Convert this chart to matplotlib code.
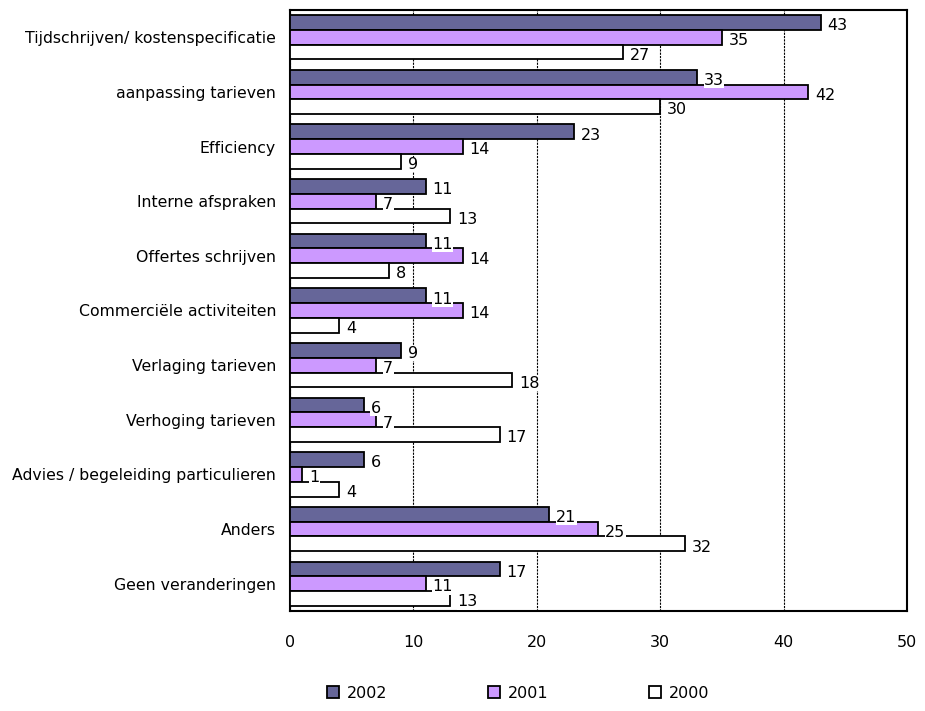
import numpy as np
import matplotlib
matplotlib.use("Agg")
import matplotlib.pyplot as plt
from matplotlib.patches import Patch

categories = [
    "Tijdschrijven/ kostenspecificatie",
    "aanpassing tarieven",
    "Efficiency",
    "Interne afspraken",
    "Offertes schrijven",
    "Commerciële activiteiten",
    "Verlaging tarieven",
    "Verhoging tarieven",
    "Advies / begeleiding particulieren",
    "Anders",
    "Geen veranderingen",
]
years = ["2002", "2001", "2000"]
v2002 = [43, 33, 23, 11, 11, 11, 9, 6, 6, 21, 17]
v2001 = [35, 42, 14, 7, 14, 14, 7, 7, 1, 25, 11]
v2000 = [27, 30, 9, 13, 8, 4, 18, 17, 4, 32, 13]

colors = ["#666699", "#CC99FF", "#FFFFFF"]

plt.rcParams['font.family'] = ['DejaVu Sans']

fig = plt.figure(figsize=(9.25, 7.11), dpi=100)
ax = fig.add_axes([0.3135, 0.1406, 0.667, 0.8454])

n = len(categories)
y = np.arange(n)
h = 0.27
for k, (vals, col) in enumerate(zip([v2002, v2001, v2000], colors)):
    pos = y + (k - 1) * h
    ax.barh(pos, vals, height=h, color=col, edgecolor="black", linewidth=1.3, zorder=3)
    for p, v in zip(pos, vals):
        ax.text(v + 0.55, p + 0.06, str(v), va="center", ha="left", fontsize=11.5,
                bbox=dict(facecolor="white", edgecolor="none", pad=0.2), zorder=4)

ax.set_xlim(0, 50)
ax.set_ylim(n - 0.5, -0.5)
ax.set_xticks([0, 10, 20, 30, 40, 50])
ax.set_xticklabels(["0", "10", "20", "30", "40", "50"], fontsize=11.5)
ax.tick_params(axis="x", length=0, pad=17)
ax.set_yticks(y)
ax.set_yticklabels(categories, fontsize=11.3)
ax.tick_params(axis="y", length=0, pad=10)
ax.xaxis.grid(True, color="black", linestyle=(0, (2, 1)), linewidth=0.8, zorder=0)
for s in ax.spines.values():
    s.set_linewidth(1.5)

handles = [Patch(facecolor=c, edgecolor="black", linewidth=1.3) for c in colors]
fig.legend(handles, years, loc="center", bbox_to_anchor=(0.56, 0.025), ncol=3,
           frameon=False, fontsize=11.5, columnspacing=6.3, handlelength=0.75,
           handleheight=0.75, handletextpad=0.5)

fig.savefig("out.png", dpi=100)
